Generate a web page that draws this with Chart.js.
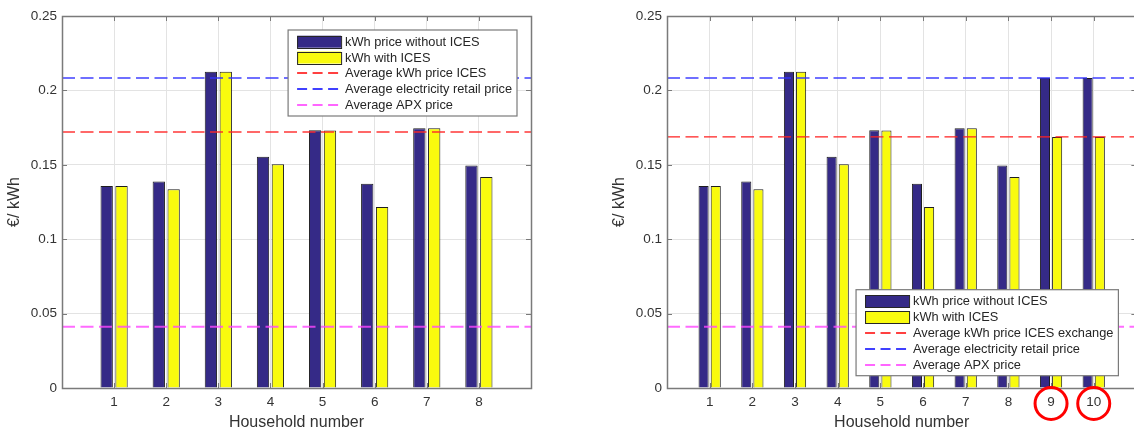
<!DOCTYPE html>
<html>
<head>
<meta charset="utf-8">
<script src="https://cdn.jsdelivr.net/npm/chart.js@4.4.1/dist/chart.umd.min.js"></script>
<style>
    html, body { margin: 0; padding: 0; background: #fff; overflow: hidden; width: 1134px; height: 432px; }
    .wrap { position: absolute; top: 0; width: 560px; height: 432px; }
    #wrapA { left: 0; }
    #wrapB { left: 580px; }
</style>
</head>
<body>
<div class="wrap" id="wrapA"><canvas id="chartA" width="560" height="432"></canvas></div>
<div class="wrap" id="wrapB"><canvas id="chartB" width="560" height="432"></canvas></div>
<script>
// Datos (€/kWh)
const householdsA = [1, 2, 3, 4, 5, 6, 7, 8];
const withoutIcesA = [0.1357, 0.1387, 0.2126, 0.1554, 0.1732, 0.1373, 0.1745, 0.1496];
const withIcesA = [0.1357, 0.1335, 0.2126, 0.1503, 0.1730, 0.1217, 0.1745, 0.1418];
const avgIcesA = 0.172;

const householdsB = [1, 2, 3, 4, 5, 6, 7, 8, 9, 10];
const withoutIcesB = [0.1357, 0.1387, 0.2126, 0.1554, 0.1732, 0.1373, 0.1745, 0.1496, 0.2083, 0.2083];
const withIcesB = [0.1357, 0.1335, 0.2126, 0.1503, 0.1730, 0.1217, 0.1745, 0.1418, 0.1687, 0.1687];
const avgIcesB = 0.1687;

const avgRetail = 0.2083;
const avgApx = 0.0412;
const highlighted = [9, 10];

const yTicks = [0, 0.05, 0.1, 0.15, 0.2, 0.25];

const FONT = '"Liberation Sans", Arial, sans-serif';
Chart.defaults.font.family = FONT;
Chart.defaults.color = "#333";

// colores de las muestras de línea en la leyenda (rojo, azul, magenta)
const legendLineColors = [null, null, "rgba(255,0,0,0.75)", "rgba(0,0,255,0.75)", "rgba(255,0,255,0.6)"];

// Marco estilo MATLAB: caja, marcas hacia dentro, leyenda y círculos
const matlabFrame = {
    id: "matlabFrame",
    afterDraw(chart, args, opts) {
        const ctx = chart.ctx;
        const a = chart.chartArea;
        const xs = chart.scales.x, ys = chart.scales.y;
        ctx.save();
        ctx.strokeStyle = "#7a7a7a";
        ctx.lineWidth = 1;
        ctx.beginPath();
        opts.households.forEach(function (h) {
            const px = Math.round(xs.getPixelForValue(h)) + 0.5;
            ctx.moveTo(px, a.bottom); ctx.lineTo(px, a.bottom - 5);
            ctx.moveTo(px, a.top); ctx.lineTo(px, a.top + 5);
        });
        yTicks.forEach(function (v) {
            const py = Math.round(ys.getPixelForValue(v)) + 0.5;
            ctx.moveTo(a.left, py); ctx.lineTo(a.left + 5, py);
            ctx.moveTo(a.right, py); ctx.lineTo(a.right - 5, py);
        });
        ctx.stroke();
        ctx.lineWidth = 1.5;
        ctx.strokeRect(Math.round(a.left) + 0.5, Math.round(a.top) + 0.5,
            Math.round(a.right - a.left), Math.round(a.bottom - a.top));

        // leyenda
        const lg = opts.legend;
        ctx.font = "12.8px " + FONT;
        const items = chart.data.datasets;
        const textW = Math.max.apply(null, items.map(function (d) { return ctx.measureText(d.label).width; }));
        const rowH = 15.8, swW = 44, padL = 9, gap = 4, padR = 5;
        const w = padL + swW + gap + textW + padR;
        const h = items.length * rowH + 7;
        const x0 = a.right - lg.right - w;
        const y0 = lg.top != null ? a.top + lg.top : a.bottom - lg.bottom - h;
        ctx.fillStyle = "#fff";
        ctx.fillRect(x0, y0, w, h);
        ctx.strokeStyle = "#7a7a7a";
        ctx.lineWidth = 1.2;
        ctx.strokeRect(x0, y0, w, h);
        items.forEach(function (d, i) {
            const cy = y0 + 3.8 + rowH * (i + 0.5);
            const sx = x0 + padL;
            if (legendLineColors[i]) {
                ctx.strokeStyle = legendLineColors[i];
                ctx.lineWidth = 2;
                ctx.setLineDash([10, 5.5]);
                ctx.beginPath();
                ctx.moveTo(sx, Math.round(cy));
                ctx.lineTo(sx + swW, Math.round(cy));
                ctx.stroke();
                ctx.setLineDash([]);
            } else {
                ctx.fillStyle = d.backgroundColor;
                ctx.fillRect(sx, cy - 6, swW, 12);
                ctx.strokeStyle = "#262626";
                ctx.lineWidth = 1;
                ctx.strokeRect(sx + 0.5, Math.round(cy - 6) + 0.5, swW, 12);
            }
            ctx.fillStyle = "#262626";
            ctx.textBaseline = "middle";
            ctx.textAlign = "left";
            ctx.fillText(d.label, sx + swW + gap, cy + 0.5);
        });

        // círculos rojos sobre las etiquetas destacadas
        if (opts.circles) {
            ctx.strokeStyle = "#ff0000";
            ctx.lineWidth = 3;
            opts.circles.forEach(function (hh) {
                ctx.beginPath();
                ctx.arc(xs.getPixelForValue(hh), a.bottom + 15.5, 16, 0, Math.PI * 2);
                ctx.stroke();
            });
        }
        ctx.restore();
    },
};

function buildChart(canvasId, cfg) {
    const xMax = cfg.xMax;
    const bar = function (label, values, color) {
        return {
            label: label,
            data: cfg.households.map(function (h, i) { return { x: h, y: values[i] }; }),
            backgroundColor: color,
            borderColor: "#1e1e1e",
            borderWidth: 1,
            categoryPercentage: 0.57,
            barPercentage: 0.83,
            order: 2,
        };
    };
    const hline = function (label, value, color, width) {
        return {
            type: "line",
            label: label,
            data: [{ x: 0, y: value }, { x: xMax, y: value }],
            borderColor: color,
            borderWidth: width,
            borderDash: [13, 5.5],
            pointRadius: 0,
            fill: false,
            order: 1,
        };
    };
    return new Chart(document.getElementById(canvasId), {
        type: "bar",
        data: {
            datasets: [
                bar("kWh price without ICES", cfg.without, "#352a87"),
                bar("kWh with ICES", cfg.withIces, "#f9fb0e"),
                hline(cfg.icesLabel, cfg.avgIces, cfg.redColor, cfg.redWidth),
                hline("Average electricity retail price", avgRetail, "rgba(50,50,255,0.7)", 2),
                hline("Average APX price", avgApx, "rgba(255,70,255,0.8)", 2),
            ],
        },
        options: {
            responsive: false,
            animation: false,
            events: [],
            layout: { padding: { top: 16, right: cfg.padRight, left: 0, bottom: 0 } },
            plugins: {
                legend: { display: false },
                tooltip: { enabled: false },
                matlabFrame: { households: cfg.households, legend: cfg.legend, circles: cfg.circles },
            },
            scales: {
                x: {
                    type: "linear",
                    min: 0,
                    max: xMax,
                    offset: false,
                    afterFit: function (s) {
                        s.height = 44;
                        s.paddingLeft = 0;
                        s.paddingRight = 0;
                    },
                    grid: { color: "#e3e3e3", drawTicks: false, offset: false },
                    border: { display: false },
                    ticks: {
                        stepSize: 1,
                        padding: 6,
                        color: "#333",
                        font: { size: 13.5 },
                        autoSkip: false,
                        maxRotation: 0,
                        callback: function (v) { return cfg.households.includes(v) ? String(v) : ""; },
                    },
                    title: {
                        display: true,
                        text: "Household number",
                        color: "#333",
                        font: { size: 16 },
                        padding: { top: 0, bottom: 0 },
                    },
                },
                y: {
                    min: 0,
                    max: 0.25,
                    afterFit: function (s) { s.width = cfg.yWidth; },
                    grid: { color: "#e3e3e3", drawTicks: false },
                    border: { display: false },
                    ticks: {
                        stepSize: 0.05,
                        padding: 5,
                        color: "#333",
                        font: { size: 13.5 },
                        callback: function (v) { return String(Math.round(v * 100) / 100); },
                    },
                    title: {
                        display: true,
                        text: "€/ kWh",
                        color: "#333",
                        font: { size: 16 },
                        padding: { top: cfg.yTitlePad, bottom: 0 },
                    },
                },
            },
        },
        plugins: [matlabFrame],
    });
}

document.addEventListener("DOMContentLoaded", function () {
    buildChart("chartA", {
        households: householdsA,
        without: withoutIcesA,
        withIces: withIcesA,
        avgIces: avgIcesA,
        icesLabel: "Average kWh price ICES",
        redColor: "rgba(255,40,40,0.7)",
        redWidth: 2,
        xMax: 9,
        yWidth: 62,
        yTitlePad: 5.4,
        padRight: 29,
        legend: { right: 14, top: 14 },
    });
    buildChart("chartB", {
        households: householdsB,
        without: withoutIcesB,
        withIces: withIcesB,
        avgIces: avgIcesB,
        icesLabel: "Average kWh price ICES exchange",
        redColor: "#ff2020",
        redWidth: 1.2,
        xMax: 11,
        yWidth: 87,
        yTitlePad: 30.4,
        padRight: 3.6,
        legend: { right: 18, bottom: 12.3 },
        circles: highlighted,
    });
});
</script>
</body>
</html>
